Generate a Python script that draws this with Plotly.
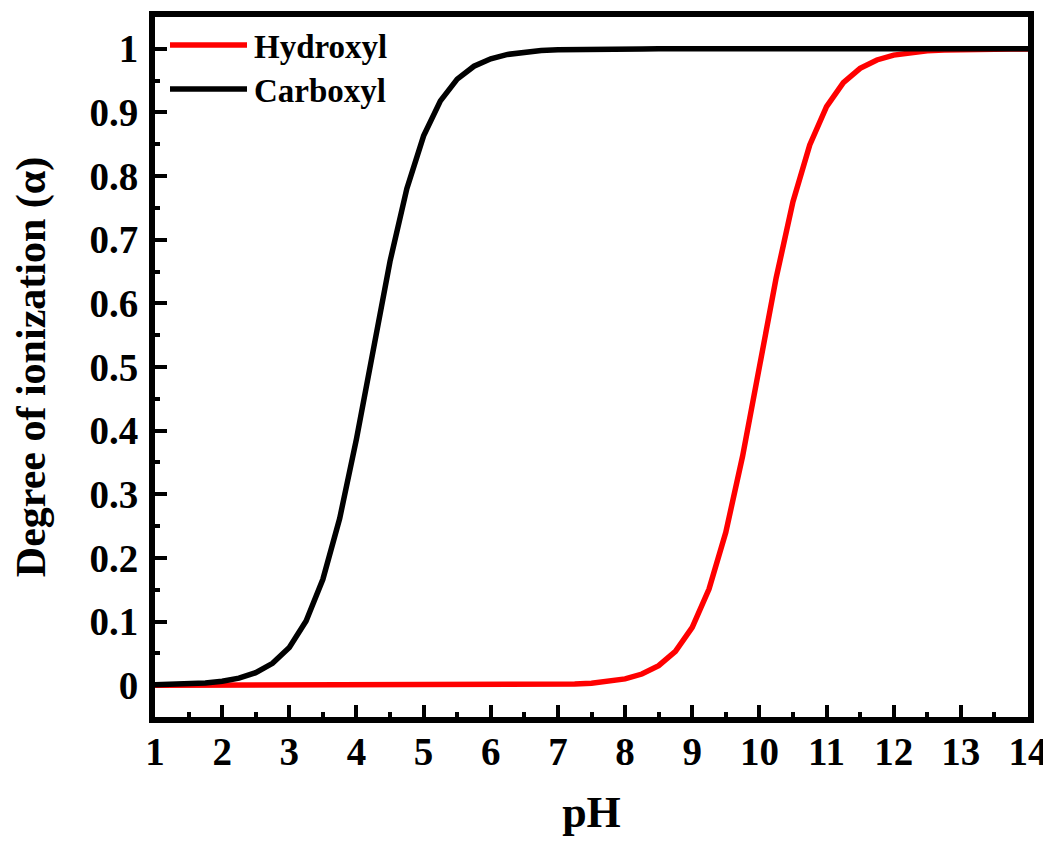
import plotly.graph_objects as go

# pH grid (step 0.25)
ph = [1.0, 1.25, 1.5, 1.75, 2.0, 2.25, 2.5, 2.75, 3.0, 3.25, 3.5, 3.75,
      4.0, 4.25, 4.5, 4.75, 5.0, 5.25, 5.5, 5.75, 6.0, 6.25, 6.5, 6.75,
      7.0, 7.25, 7.5, 7.75, 8.0, 8.25, 8.5, 8.75, 9.0, 9.25, 9.5, 9.75,
      10.0, 10.25, 10.5, 10.75, 11.0, 11.25, 11.5, 11.75, 12.0, 12.25, 12.5, 12.75,
      13.0, 13.25, 13.5, 13.75, 14.0]

hydroxyl = [0.0, 0.0, 0.0, 0.0, 0.0, 0.0, 0.0, 0.0, 0.0, 0.0, 0.0, 0.0,
            0.0, 0.0, 0.0, 0.0, 0.0, 0.0, 0.0, 0.0, 0.0001, 0.0002, 0.0003, 0.0006,
            0.0010, 0.0018, 0.0032, 0.0056, 0.0099, 0.0175, 0.0307, 0.0532, 0.0909, 0.1510, 0.2403, 0.3599,
            0.5000, 0.6401, 0.7597, 0.8490, 0.9091, 0.9468, 0.9693, 0.9825, 0.9901, 0.9944, 0.9968, 0.9982,
            0.9990, 0.9994, 0.9997, 0.9998, 0.9999]

carboxyl = [0.0006, 0.0011, 0.0020, 0.0035, 0.0063, 0.0111, 0.0196, 0.0343, 0.0593, 0.1009, 0.1664, 0.2619,
            0.3869, 0.5288, 0.6662, 0.7801, 0.8632, 0.9182, 0.9523, 0.9726, 0.9844, 0.9912, 0.9950, 0.9972,
            0.9984, 0.9991, 0.9995, 0.9997, 0.9998, 0.9999, 1.0, 1.0, 1.0, 1.0, 1.0, 1.0,
            1.0, 1.0, 1.0, 1.0, 1.0, 1.0, 1.0, 1.0, 1.0, 1.0, 1.0, 1.0,
            1.0, 1.0, 1.0, 1.0, 1.0]

series_names = ["Hydroxyl", "Carboxyl"]
series_colors = ["#ff0000", "#000000"]

x_ticks = list(range(1, 15))
y_ticks = [0, 0.1, 0.2, 0.3, 0.4, 0.5, 0.6, 0.7, 0.8, 0.9, 1]
y_tick_text = ["0", "0.1", "0.2", "0.3", "0.4", "0.5", "0.6", "0.7", "0.8", "0.9", "1"]

FONT = "Liberation Serif, Times New Roman, serif"

fig = go.Figure()
for name, ys, col in zip(series_names, [hydroxyl, carboxyl], series_colors):
    fig.add_trace(go.Scatter(x=ph, y=ys, mode="lines", name=name,
                             line=dict(color=col, width=5.5), showlegend=False))

# custom legend (long line samples)
leg_y = [45, 89]
for name, col, yy in zip(series_names, series_colors, leg_y):
    fig.add_shape(type="line", xref="paper", yref="paper",
                  x0=(170 - 155) / 873, x1=(247 - 155) / 873,
                  y0=1 - (yy - 17) / 700, y1=1 - (yy - 17) / 700,
                  line=dict(color=col, width=5.5))
    fig.add_annotation(xref="paper", yref="paper", x=(252 - 155) / 873,
                       y=1 - (yy + 2 - 17) / 700, text="<b>%s</b>" % name,
                       showarrow=False, xanchor="left", yanchor="middle",
                       font=dict(family=FONT, size=33, color="black"))

axis_common = dict(
    showline=True, linewidth=6, linecolor="black", mirror=True,
    ticks="inside", ticklen=12, tickwidth=4, tickcolor="black",
    showgrid=False, zeroline=False, automargin=False,
    tickfont=dict(family=FONT, size=39, color="black"),
)

fig.update_xaxes(range=[1, 14], tickvals=x_ticks,
                 ticktext=["<b>%d</b>" % v for v in x_ticks],
                 ticklabelstandoff=-5,
                 minor=dict(dtick=0.5, ticks="inside", ticklen=5, tickwidth=4, tickcolor="black"),
                 title=dict(text="<b>pH</b>", font=dict(family=FONT, size=44, color="black"), standoff=26),
                 **axis_common)
fig.update_yaxes(range=[-0.05, 1.05], tickvals=y_ticks,
                 ticktext=["<b>%s</b>" % t for t in y_tick_text],
                 ticklabelstandoff=3,
                 minor=dict(dtick=0.05, ticks="inside", ticklen=5, tickwidth=4, tickcolor="black"),
                 title=dict(text="<b>Degree of ionization (α)</b>", font=dict(family=FONT, size=42, color="black"), standoff=37),
                 **axis_common)

# page body has an 8px margin, so the figure is shifted by 8px
fig.update_layout(
    width=1043, height=835,
    margin=dict(l=147, r=23, t=9, b=126),
    plot_bgcolor="white", paper_bgcolor="white",
    showlegend=False,
)

fig.write_html("out.html")
